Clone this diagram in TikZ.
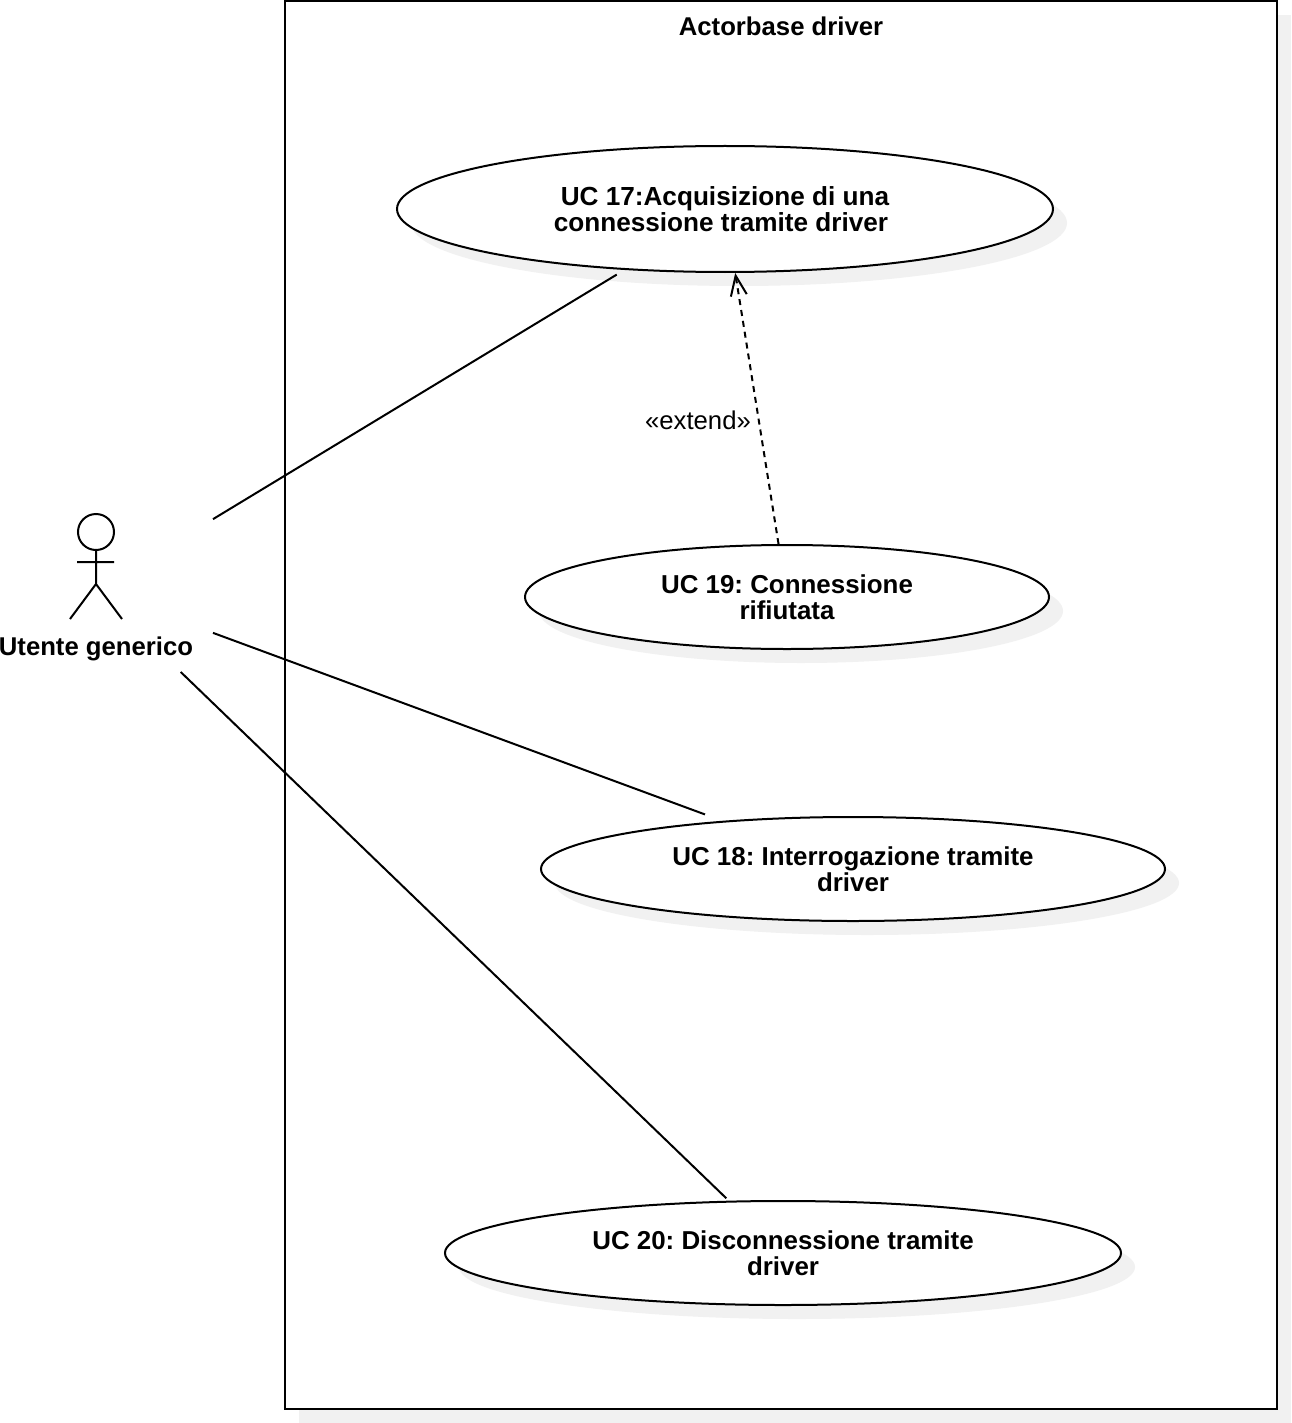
\documentclass[tikz,border=0pt]{standalone}
\usepackage{fontspec}
\setmainfont{Liberation Sans}
\usetikzlibrary{shapes.geometric,arrows.meta}
\tikzset{
  ucase/.style={ellipse,draw=black,fill=white,inner sep=0pt,align=center,font=\fontsize{25.9}{26}\selectfont\bfseries\frenchspacing},
  assoc/.style={draw=black},
  extendarrow/.style={draw=black,dash pattern=on 6pt off 5pt,-{Straight Barb[length=20pt,width=16pt,line width=2pt]}},
  caption/.style={inner sep=0pt,font=\fontsize{25.7}{26}\selectfont\bfseries},
}
\definecolor{shadowgray}{HTML}{F1F1F1}
\begin{document}
\begin{tikzpicture}[x=1pt,y=-1pt,line width=2pt]
\useasboundingbox (0,0) rectangle (1291,1423);
% system boundary
\fill[shadowgray] (299,15) rectangle (1291,1423);
\draw[fill=white] (285,1) rectangle (1277,1409);
\node[caption] (title) at (781,26) {Actorbase driver};
% actor
\draw (96,532) circle (18);
\draw (96,550) -- (96,584) (77,562) -- (114,562) (70,619) -- (96,584) -- (122,619);
\node[caption,anchor=base] (actorlabel) at (96,655) {Utente generico};
\node[minimum width=234pt,minimum height=164pt,inner sep=0pt,outer sep=0pt] (actor) at (96,590) {};
% use case shadows
\foreach \cx/\cy/\w/\h in {725/209/656/126,787/597/524/104,853/869/624/104,783/1253/676/104}
  \fill[shadowgray] (\cx+14,\cy+14) ellipse [x radius=\w/2,y radius=\h/2];
% use cases
\node[ucase,minimum width=656pt,minimum height=126pt,font=\fontsize{26.15}{26}\selectfont\bfseries] (uc17) at (725,209) {UC 17:Acquisizione di una\\connessione tramite driver\hspace*{8pt}\null};
\node[ucase,minimum width=524pt,minimum height=104pt] (uc19) at (787,597) {UC 19: Connessione\\rifiutata};
\node[ucase,minimum width=624pt,minimum height=104pt] (uc18) at (853,869) {UC 18: Interrogazione tramite\\driver};
\node[ucase,minimum width=676pt,minimum height=104pt] (uc20) at (783,1253) {UC 20: Disconnessione tramite\\driver};
% connectors
\draw[assoc,shorten >=9pt] (actor) -- (uc17);
\draw[assoc,shorten >=18.5pt] (actor) -- (uc18);
\draw[assoc,shorten >=3.5pt] (actor) -- (uc20);
\draw[extendarrow] (uc19) -- (uc17);
\node[inner sep=0pt,font=\fontsize{25.7}{26}\selectfont] (extendlabel) at (698,420) {«extend»};
\end{tikzpicture}
\end{document}
